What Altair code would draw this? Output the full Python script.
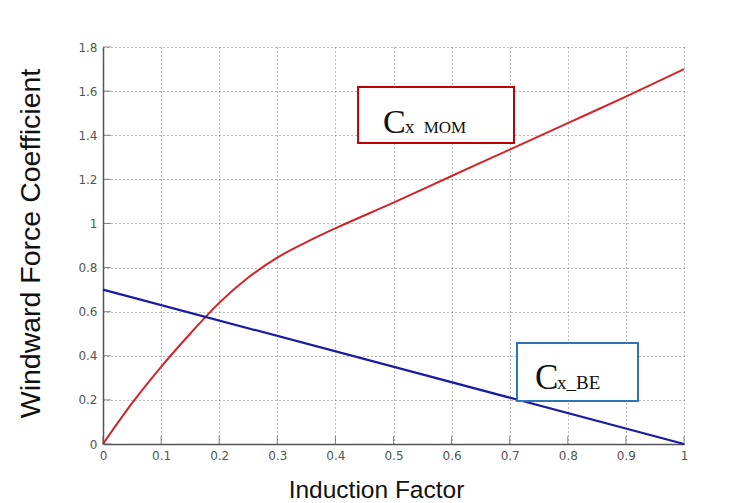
import altair as alt
import pandas as pd

# Data
mom_x = [0, 0.05, 0.1, 0.15, 0.2, 0.25, 0.3, 0.35, 0.4, 0.5, 0.6, 0.7, 0.8, 0.9, 1.0]
mom_y = [0, 0.185, 0.35, 0.50, 0.64, 0.755, 0.845, 0.915, 0.978, 1.094, 1.215, 1.335, 1.455, 1.575, 1.70]
be_x = [0, 1.0]
be_y = [0.70, 0.0]
x_ticks = [0, 0.1, 0.2, 0.3, 0.4, 0.5, 0.6, 0.7, 0.8, 0.9, 1]
y_ticks = [0, 0.2, 0.4, 0.6, 0.8, 1, 1.2, 1.4, 1.6, 1.8]

# Annotation boxes (data coordinates)
box_name = ["MOM", "BE"]
box_x1 = [0.439, 0.7126]
box_x2 = [0.7074, 0.9208]
box_y1 = [1.6186, 0.458]
box_y2 = [1.3647, 0.195]
box_color = ["#c00000", "#2e75b6"]

W, H = 581, 397

mom = pd.DataFrame({"x": mom_x, "y": mom_y})
be = pd.DataFrame({"x": be_x, "y": be_y})
boxes = pd.DataFrame({"name": box_name, "x1": box_x1, "x2": box_x2,
                      "y1": box_y1, "y2": box_y2, "c": box_color})

xs = alt.Scale(domain=[0, 1], nice=False, zero=False)
ys = alt.Scale(domain=[0, 1.8], nice=False, zero=False)

common = dict(grid=True, gridDash=[1, 3], gridColor="#666666", gridOpacity=0.9,
              gridWidth=1, ticks=False, domainColor="#555555", domainWidth=1.5,
              labelFont="DejaVu Sans", labelFontSize=12, labelColor="#555555",
              labelPadding=6, format=".1~f", labelFlush=False,
              titleFont="Liberation Sans", titleFontWeight="normal",
              titleColor="#111111")

xaxis = alt.Axis(values=x_ticks, title="Induction Factor", titleFontSize=24.5,
                 titleX=273, titleY=53, titleAlign="center",
                 titleBaseline="alphabetic", **common)
yaxis = alt.Axis(values=y_ticks, title="Windward Force Coefficient", titleFontSize=28.5,
                 titleAngle=270, titleX=-73, titleY=196,
                 titleAlign="center", titleBaseline="middle", **common)

base_axes = alt.Chart(pd.DataFrame({"x": [0], "y": [0]})).mark_point(opacity=0).encode(
    x=alt.X("x:Q", scale=xs, axis=xaxis),
    y=alt.Y("y:Q", scale=ys, axis=yaxis),
)

xt = alt.Chart(pd.DataFrame({"t": x_ticks})).mark_tick(
    orient="vertical", size=8, thickness=1, color="#555555").encode(
    x=alt.X("t:Q", scale=xs), y=alt.value(H - 4))
yt = alt.Chart(pd.DataFrame({"t": y_ticks})).mark_tick(
    orient="horizontal", size=8, thickness=1, color="#555555").encode(
    y=alt.Y("t:Q", scale=ys), x=alt.value(4))

mom_line = alt.Chart(mom).mark_line(color="#d2232a", strokeWidth=2, interpolate="monotone").encode(
    x=alt.X("x:Q", scale=xs), y=alt.Y("y:Q", scale=ys))
be_line = alt.Chart(be).mark_line(color="#1a1aa6", strokeWidth=2.2).encode(
    x=alt.X("x:Q", scale=xs), y=alt.Y("y:Q", scale=ys))

rects = alt.Chart(boxes).mark_rect(fill="white", strokeWidth=2).encode(
    x=alt.X("x1:Q", scale=xs), x2="x2:Q",
    y=alt.Y("y1:Q", scale=ys), y2="y2:Q",
    stroke=alt.Stroke("c:N", scale=None))

# label texts
lab = pd.DataFrame({
    "t": ["C", "x", "MOM", "C", "x_BE"],
    "x": [0.4819, 0.5200, 0.552, 0.7435, 0.7814],
    "y": [1.4101, 1.4101, 1.4101, 0.2494, 0.2494],
    "s": [34, 19, 17, 35, 19],
})
labels = alt.Chart(lab).mark_text(font="Liberation Serif", align="left",
                                  baseline="alphabetic", color="#111111").encode(
    x=alt.X("x:Q", scale=xs), y=alt.Y("y:Q", scale=ys), text="t:N",
    size=alt.Size("s:Q", scale=None))

chart = alt.layer(base_axes, mom_line, be_line, rects, labels, xt, yt).properties(
    width=W, height=H,
    padding={"left": 103, "top": 47, "right": 54, "bottom": 59},
    autosize=alt.AutoSizeParams(type="none"),
    background="white",
).configure_view(stroke=None)

chart.save("out.html", embed_options={"renderer": "svg", "actions": False})
